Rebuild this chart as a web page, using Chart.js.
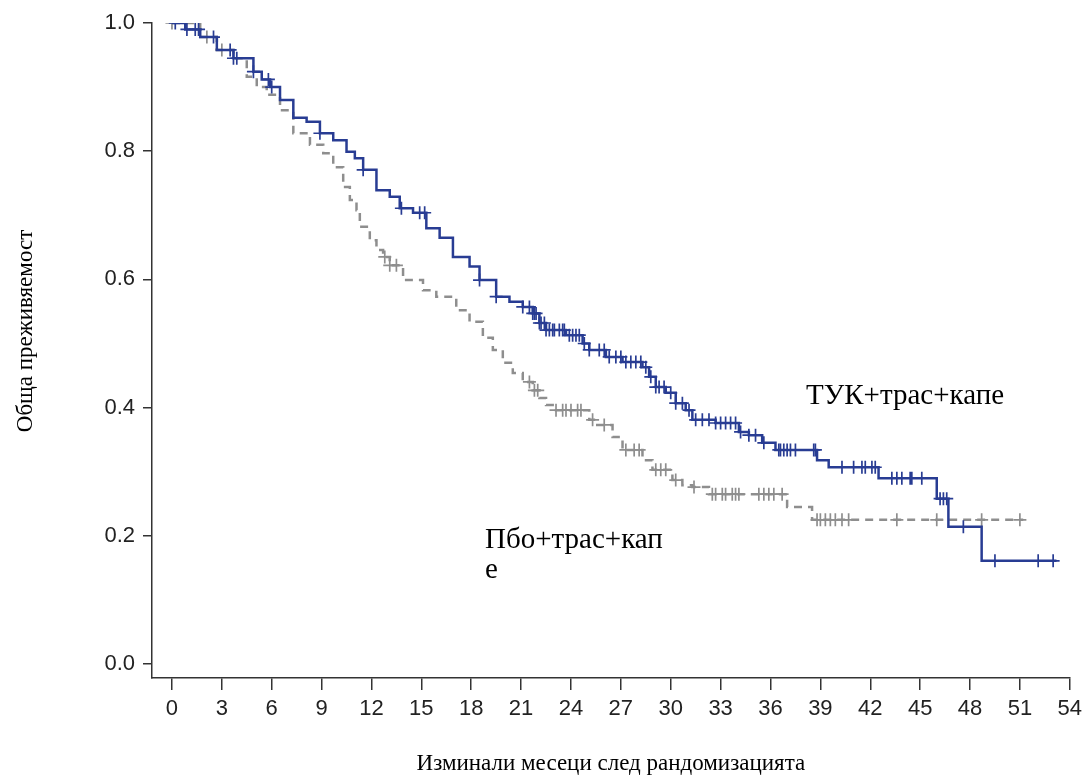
<!DOCTYPE html>
<html><head><meta charset="utf-8">
<script src="https://cdn.jsdelivr.net/npm/chart.js@4.4.1/dist/chart.umd.min.js"></script>
<style>html,body{margin:0;padding:0;background:#fff;} #wrap{width:1088px;height:781px;position:relative;}</style>
</head><body><div id="wrap"><canvas id="c" width="1088" height="781"></canvas></div>
<script>
// ---- data (months, survival probability) ----
const blueName = 'ТУК+трас+капе';
const greyName = 'Пбо+трас+кап';
const greyNameTail = 'е';
const xTitle = 'Изминали месеци след рандомизацията';
const yTitle = 'Обща преживяемост';
const xTicks = [0,3,6,9,12,15,18,21,24,27,30,33,36,39,42,45,48,51,54];
const yTicks = [0,0.2,0.4,0.6,0.8,1.0];

const blueT = [0,0.8,1.7,2.7,3.7,4.9,5.4,5.9,6.5,7.3, 8.1,8.9,9.7,10.5,11.0,11.5,12.3,13.1,13.7,14.5, 15.3,16.1,16.9,17.9,18.5,19.5,20.3,21.1,21.7,22.1, 22.5,23.7,24.7,25.1,26.1,27.1,28.3,28.7,29.1,29.7, 30.3,30.9,31.3,32.7,34.1,34.7,35.5,36.3,38.8,39.5, 42.5,46.0,46.7,48.7,53.2];
const blueS = [1.0,.99,.978,.958,.945,.924,.912,.90,.88,.852, .846,.828,.817,.799,.789,.771,.739,.729,.711,.704, .68,.665,.635,.62,.599,.573,.565,.557,.547,.532, .521,.513,.50,.49,.479,.471,.463,.448,.432,.423, .407,.396,.381,.376,.362,.357,.345,.334,.318,.307, .290,.258,.214,.161,.161];
const blueCensor = [0.2,0.9,1.4,1.6,2.5,3.5,3.7,3.9,4.9,5.8,6.0,8.9,11.5,13.8,14.9,15.2,18.5,19.5,21.1,21.5,21.7,21.8,21.9,22.1,22.2,22.4,22.5,22.7,22.9,23.0,23.3,23.5,23.6,23.9,24.1,24.3,24.5,24.8,25.1,25.7,26.0,26.3,26.7,27.0,27.3,27.6,27.9,28.2,28.5,28.8,29.1,29.3,29.6,30.0,30.3,30.7,31.1,31.5,31.9,32.3,32.7,33.0,33.3,33.6,33.9,34.2,34.7,35.1,35.6,36.5,36.6,36.8,37.0,37.2,37.5,38.6,38.7,40.3,41.0,41.5,41.7,42.1,42.3,43.3,43.6,43.9,44.4,44.5,45.1,46.2,46.4,46.6,47.6,49.5,52.1,53.0];

const greyT = [0,1.7,2.7,3.7,4.5,5.1,5.7,6.5,7.3,8.3, 9.1,9.7,10.3,10.7,11.1,11.3,11.9,12.3,12.7,13.1, 13.9,15.1,15.9,17.1,17.9,18.7,19.3,19.9,20.5,21.1, 21.7,22.1,22.5,22.9,25.1,25.5,26.5,27.1,28.3,28.9, 30.1,30.7,31.3,32.3,37.0,38.5,51.2];
const greyS = [1.0,.978,.958,.945,.916,.90,.888,.864,.828,.81, .797,.775,.744,.724,.708,.682,.661,.646,.635,.622, .599,.583,.573,.552,.534,.509,.49,.47,.454,.44, .427,.415,.404,.396,.381,.373,.354,.334,.318,.303, .287,.279,.276,.265,.245,.225,.225];
const greyCensor = [0.0,2.1,3.0,12.8,13.1,13.5,21.5,21.8,22.0,23.1,23.5,23.7,24.0,24.4,24.6,25.3,26.0,27.3,27.8,28.1,29.1,29.4,29.7,30.3,31.4,32.5,32.7,33.1,33.3,33.7,33.9,34.1,35.3,35.6,35.9,36.2,36.7,38.8,39.0,39.3,39.6,39.9,40.3,40.7,43.6,46.0,48.7,51.0];

const BLUE = '#283c93';
const GREY = '#8e8e8e';
const SERIF = '"Liberation Serif", "Times New Roman", serif';
const SANS = '"Liberation Sans", Arial, sans-serif';

function stepAt(T, S, t) {
  let v = S[0];
  for (let i = 0; i < T.length; i++) { if (T[i] <= t) v = S[i]; else break; }
  return v;
}

const annotations = {
  id: 'annotations',
  afterDraw(chart) {
    const c = chart.ctx;
    c.save();
    c.fillStyle = '#000';
    c.textBaseline = 'alphabetic';
    c.textAlign = 'left';
    c.font = '29px ' + SERIF;
    c.fillText(blueName, 806, 404);
    c.fillText(greyName, 485, 548);
    c.fillText(greyNameTail, 485, 578);
    // y-axis title
    c.translate(26, 331);
    c.rotate(-Math.PI / 2);
    c.textAlign = 'center';
    c.textBaseline = 'middle';
    c.font = '23px ' + SERIF;
    c.fillText(yTitle, 0, 0);
    c.restore();
  }
};

new Chart(document.getElementById('c'), {
  type: 'line',
  data: {
    datasets: [
      { label: blueName, data: blueT.map((t,i)=>({x:t,y:blueS[i]})), stepped: 'before',
        borderColor: BLUE, borderWidth: 2.5, pointRadius: 0, fill: false },
      { label: blueName + ' (цензурирани)', data: blueCensor.map(t=>({x:t,y:stepAt(blueT,blueS,t)})), showLine: false,
        pointStyle: 'cross', pointRadius: 6.5, pointBorderColor: BLUE, pointBackgroundColor: BLUE, pointBorderWidth: 1.7 },
      { label: greyName + greyNameTail, data: greyT.map((t,i)=>({x:t,y:greyS[i]})), stepped: 'before',
        borderColor: GREY, borderWidth: 2.5, borderDash: [8,6], pointRadius: 0, fill: false },
      { label: greyName + greyNameTail + ' (цензурирани)', data: greyCensor.map(t=>({x:t,y:stepAt(greyT,greyS,t)})), showLine: false,
        pointStyle: 'cross', pointRadius: 6.5, pointBorderColor: GREY, pointBackgroundColor: GREY, pointBorderWidth: 1.7 }
    ]
  },
  options: {
    responsive: false,
    animation: false,
    layout: { padding: { top: 23, right: 16, left: 0, bottom: 0 } },
    plugins: { legend: { display: false }, tooltip: { enabled: false } },
    scales: {
      x: {
        type: 'linear', min: -1.2, max: 54,
        afterBuildTicks: s => { s.ticks = xTicks.map(v => ({ value: v })); },
        afterFit: s => { s.height = 781 - 678; },
        ticks: { autoSkip: false, maxRotation: 0, padding: 6, color: '#222',
                 font: { family: SANS, size: 22 },
                 callback: v => String(v) },
        grid: { drawOnChartArea: false, drawTicks: true, tickLength: 12, color: '#333', lineWidth: 1.5 },
        border: { display: true, color: '#333', width: 1.5 },
        title: { display: true, text: xTitle, color: '#000', padding: { top: 0, bottom: 3 },
                 font: { family: SERIF, size: 23 } }
      },
      y: {
        type: 'linear', min: -0.0218, max: 1.0,
        afterBuildTicks: s => { s.ticks = yTicks.map(v => ({ value: v })); },
        afterFit: s => { s.width = 152; },
        ticks: { padding: 8, color: '#222',
                 font: { family: SANS, size: 22 },
                 callback: v => Number(v).toFixed(1) },
        grid: { drawOnChartArea: false, drawTicks: true, tickLength: 9, color: '#333', lineWidth: 1.5 },
        border: { display: true, color: '#333', width: 1.5 },
        title: { display: false, text: yTitle }
      }
    }
  },
  plugins: [annotations]
});
</script></body></html>
